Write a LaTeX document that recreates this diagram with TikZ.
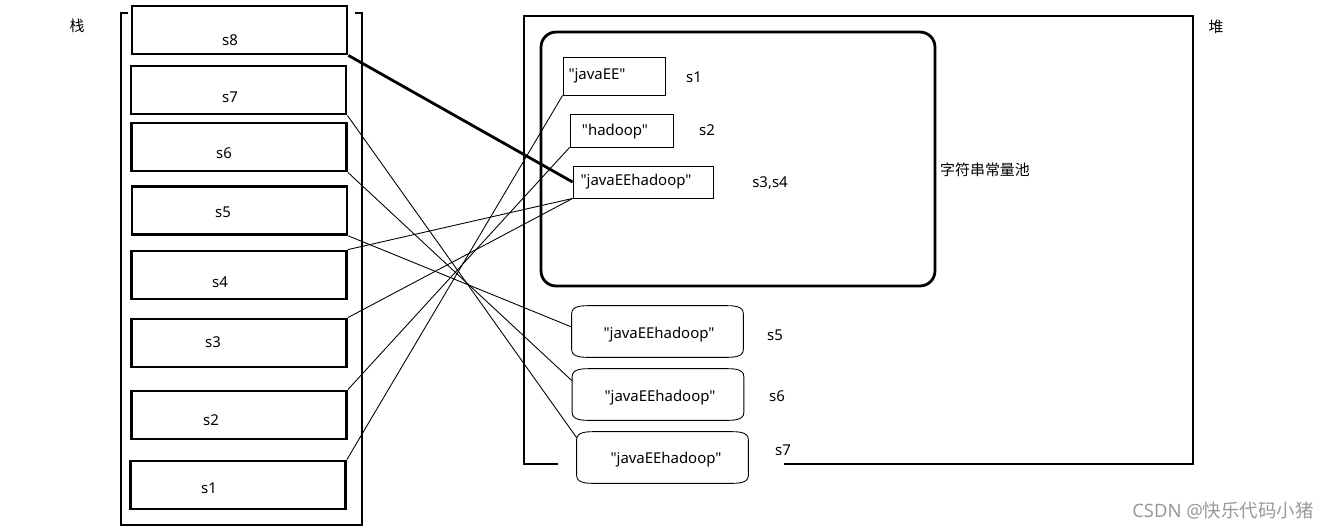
\documentclass[tikz,border=0pt]{standalone}
\usepackage{fontspec}
\setmainfont{Noto Sans}[Ligatures=TeXOff]
\newfontfamily\cjk{Noto Sans CJK SC}

% rounded drum outline drawn round an empty node
\newcommand{\drum}[1]{%
	\draw[wire] ([yshift=-4.5pt]#1.north west) to[out=90,in=180] ([xshift=11pt]#1.north west)
	-- ([xshift=-11pt]#1.north east) to[out=0,in=90] ([yshift=-4.5pt]#1.north east)
	-- ([yshift=4.5pt]#1.south east) to[out=-90,in=0] ([xshift=-11pt]#1.south east)
	-- ([xshift=11pt]#1.south west) to[out=180,in=-90] ([yshift=4.5pt]#1.south west) -- cycle;}

\begin{document}
\begin{tikzpicture}[x=0.02cm,y=-0.02cm,
	stackbox/.style={draw, line width=1.6pt, minimum width=4.3cm, minimum height=0.96cm},
	strbox/.style={draw, line width=0.5pt, inner sep=0pt},
	drumbox/.style={inner sep=0pt, minimum width=3.42cm, minimum height=1.02cm},
	wire/.style={line width=0.5pt},
	txt/.style={inner sep=0pt, font=\fontsize{8.5}{10}\selectfont}]
	
	\useasboundingbox (0,0) rectangle (1333,529);
	
	% stack frame
	\draw[line width=1.6pt] (128,13) -- (121,13) -- (121,525) -- (362,525) -- (362,13) -- (355,13);
	\node[txt] (stacklabel) at (77,26) {\cjk 栈};
	
	% stack slots
	\node[stackbox] (s8) at (239.5,30) {};
	\node[stackbox] (s7) at (238.5,90) {};
	\node[stackbox] (s6) at (239,147) {};
	\node[stackbox] (s5) at (239.5,210.5) {};
	\node[stackbox] (s4) at (239,275) {};
	\node[stackbox] (s3) at (239,343) {};
	\node[stackbox] (s2) at (239,415) {};
	\node[stackbox] (s1) at (238,485) {};
	
	\node[txt] (t8) at (230,40) {s8};
	\node[txt] (t7) at (230,97) {s7};
	\node[txt] (t6) at (224,153) {s6};
	\node[txt] (t5) at (223,212) {s5};
	\node[txt] (t4) at (220,282) {s4};
	\node[txt] (t3) at (213,342) {s3};
	\node[txt] (t2) at (211,420) {s2};
	\node[txt] (t1) at (209,488) {s1};
	
	% heap frame, open at the bottom for the last drum
	\draw[line width=1.6pt] (558,464) -- (524,464) -- (524,16) -- (1193,16) -- (1193,464) -- (784,464);
	\node[txt] (heaplabel) at (1216,27) {\cjk 堆};
	
	% string pool
	\node[draw, line width=1.6pt, rounded corners=0.3cm,
	minimum width=7.88cm, minimum height=5.08cm] (pool) at (738,159) {};
	\node[txt] (poollabel) at (985,170) {\cjk 字符串常量池};
	
	\node[strbox, minimum width=2.04cm, minimum height=0.76cm] (javaEE) at (614,76) {};
	\node[strbox, minimum width=2.06cm, minimum height=0.66cm] (hadoop) at (621.5,130.5) {};
	\node[strbox, minimum width=2.8cm, minimum height=0.64cm] (joined) at (643,182) {};
	
	\node[txt] (tjavaEE) at (597,76) {"javaEE"};
	\node[txt] (thadoop) at (615,132) {"hadoop"};
	\node[txt] (tjoined) at (636,182) {"javaEEhadoop"};
	\node[txt] (r1) at (694,77) {s1};
	\node[txt] (r2) at (707,130) {s2};
	\node[txt] (r34) at (770,183) {s3,s4};
	
	% new objects on the heap
	\node[drumbox] (d5) at (657.5,331.5) {};
	\node[drumbox] (d6) at (658,394.5) {};
	\node[drumbox] (d7) at (662.5,457.5) {};
	\drum{d5}
	\drum{d6}
	\drum{d7}
	
	\node[txt] (td5) at (659,335) {"javaEEhadoop"};
	\node[txt] (td6) at (660,398) {"javaEEhadoop"};
	\node[txt] (td7) at (666,460) {"javaEEhadoop"};
	\node[txt] (r5) at (775,335) {s5};
	\node[txt] (r6) at (777,396) {s6};
	\node[txt] (r7) at (783,450) {s7};
	
	% references
	\draw[line width=1.6pt] (s8.south east) -- (joined.west);
	\draw[wire] (s7.south east) -- (d7.167);
	\draw[wire] (s6.south east) -- (d6.171);
	\draw[wire] (s5.south east) -- (d5.177);
	\draw[wire] (s4.north east) -- (joined.south west);
	\draw[wire] (s3.north east) -- (joined.south west);
	\draw[wire] (s2.north east) -- (hadoop.south west);
	\draw[wire] (s1.north east) -- (javaEE.south west);
	
	\node[txt, text=black!40, font=\fontsize{10.5}{12}\selectfont] (mark) at (1223,511) {CSDN @\cjk 快乐代码小猪};
	
\end{tikzpicture}
\end{document}
